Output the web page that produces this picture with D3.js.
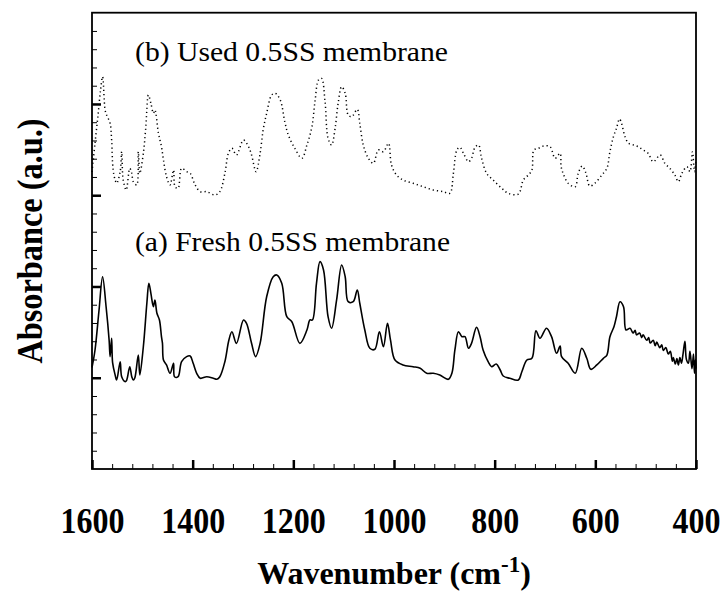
<!DOCTYPE html>
<html>
<head>
<meta charset="utf-8">
<script src="https://cdn.jsdelivr.net/npm/d3@7"></script>
<style>
  body { margin: 0; background: #fff; }
  svg text { font-family: "Liberation Serif", "Times New Roman", serif; fill: #000; }
  .axis path, .axis line { stroke: #000; }
</style>
</head>
<body>
<div id="vis_container"></div>
<script>
// wavenumbers (cm-1) and absorbance
var freshWn = [1600,1594,1586,1579,1572,1566,1564,1561,1559,1554,1551,1544,1541,1534,1531,1525,1521,1518,1515,1508,
  1505,1498,1491,1487,1483,1478,1475,1471,1466,1462,1460,1458,1452,1445,1438,1436,1429,1422,1412,1405,
  1399,1392,1385,1372,1359,1352,1346,1336,1328,1322,1313,1299,1293,1283,1275,1266,1253,1240,1233,1223,
  1213,1203,1187,1173,1167,1162,1154,1147,1140,1131,1124,1114,1104,1097,1091,1081,1073,1068,1058,1048,
  1038,1029,1021,1013,1007,998,982,962,948,935,922,909,892,885,879,872,865,859,852,846,
  836,829,823,813,806,797,789,783,770,753,746,736,726,718,710,697,687,677,670,667,
  654,640,627,617,609,597,584,577,571,563,558,551,544,539,
  531,525,521,518,512,508,505,498,494,491,485,481,478,472,468,465,460,455,451,447,
  445,441,438,435,432,429,426,422,419,415,412,408,405,403,401,400];
var freshAbs = [1.112,1.304,1.742,2.107,1.778,1.414,1.231,1.432,1.162,1.030,0.975,1.176,1.011,0.957,0.975,1.121,1.011,0.975,0.997,1.249,
  1.030,1.340,1.816,2.035,1.925,1.778,1.852,1.706,1.633,1.450,1.377,1.194,1.140,1.049,1.158,1.011,1.011,1.176,1.231,1.238,
  1.158,1.049,0.994,1.011,0.994,0.983,1.011,1.176,1.414,1.504,1.377,1.633,1.597,1.377,1.231,1.377,1.888,2.107,2.126,2.035,
  1.669,1.614,1.377,1.523,1.633,1.633,2.035,2.272,2.181,1.669,1.542,1.852,2.235,2.107,1.833,1.833,1.961,1.816,1.523,1.323,
  1.312,1.504,1.340,1.597,1.414,1.194,1.140,1.121,1.103,1.049,1.049,1.030,0.983,1.049,1.304,1.504,1.450,1.450,1.323,1.377,
  1.553,1.450,1.304,1.176,1.121,1.151,1.085,1.019,0.994,0.975,1.066,1.194,1.213,1.515,1.432,1.542,1.450,1.268,1.348,1.231,
  1.158,1.049,1.323,1.213,1.092,1.140,1.213,1.249,1.450,1.559,1.669,1.833,1.778,1.523,
  1.542,1.49,1.52,1.47,1.49,1.44,1.47,1.41,1.44,1.38,1.41,1.35,1.39,1.33,1.36,1.30,1.33,1.26,1.29,1.18,
  1.22,1.15,1.21,1.14,1.22,1.16,1.25,1.40,1.20,1.16,1.29,1.10,1.26,1.05,1.20,1.10];

var usedWn = [1600,1594,1588,1583,1579,1574,1571,1564,1561,1558,1554,1551,1544,1541,1538,1532,1525,1521,1518,1511,
  1508,1505,1498,1493,1488,1483,1478,1475,1468,1462,1458,1452,1445,1438,1435,1429,1422,1412,1405,1395,
  1385,1372,1356,1346,1336,1329,1322,1313,1299,1289,1283,1274,1266,1260,1253,1243,1236,1226,1217,1210,
  1197,1183,1173,1163,1157,1150,1144,1137,1131,1124,1117,1111,1104,1097,1091,1084,1073,1068,1061,1051,
  1041,1031,1021,1011,1005,995,982,962,942,922,902,889,882,875,869,862,852,846,839,832,
  826,816,803,786,773,753,743,733,726,722,713,703,690,680,670,668,664,654,640,634,
  626,619,611,601,587,577,571,564,558,552,548,541,534,524,515,505,495,485,471,462,
  452,442,435,428,418,412,407,403,400];
var usedAbs = [3.254,3.572,3.879,4.153,4.299,3.934,3.879,3.788,3.605,3.276,3.167,3.131,3.258,3.477,3.167,3.057,3.295,3.240,3.148,3.112,
  3.477,3.240,3.459,3.751,4.098,4.007,3.898,3.934,3.678,3.532,3.386,3.203,3.112,3.276,3.093,3.076,3.295,3.258,3.240,3.112,
  3.039,3.039,3.002,3.039,3.240,3.459,3.514,3.441,3.605,3.532,3.441,3.258,3.459,3.715,3.898,4.098,4.117,4.043,3.806,3.660,
  3.514,3.405,3.550,3.751,4.025,4.263,4.281,4.025,3.624,3.550,3.733,4.007,4.189,4.117,3.879,3.860,3.941,3.788,3.550,3.405,
  3.350,3.496,3.477,3.569,3.331,3.222,3.167,3.131,3.093,3.057,3.039,3.021,3.240,3.496,3.525,3.459,3.367,3.405,3.525,3.550,
  3.405,3.240,3.167,3.076,3.021,3.013,3.167,3.222,3.276,3.496,3.514,3.539,3.532,3.405,3.459,3.313,3.240,3.131,3.093,3.240,
  3.320,3.247,3.101,3.131,3.222,3.295,3.477,3.641,3.733,3.835,3.788,3.641,3.569,3.550,3.532,3.496,3.459,3.367,3.441,3.350,
  3.295,3.222,3.148,3.240,3.313,3.258,3.477,3.258,3.386];

var xMajorTicks = [1600, 1400, 1200, 1000, 800, 600, 400];
var labelUsed = "(b) Used 0.5SS membrane";
var labelFresh = "(a) Fresh 0.5SS membrane";

function buildSpectra() {
  var width = 725, height = 594;
  var left = 92, right = 696, top = 12.7, bottom = 469;

  var svg = d3.select("#vis_container").append("svg")
      .attr("width", width)
      .attr("height", height);

  var x = d3.scaleLinear().domain([1600, 400]).range([left, right]);
  var y = d3.scaleLinear().domain([0, 5]).range([bottom, top]);

  // minor ticks every 40 cm-1 and every 0.2 a.u., pointing inward
  svg.append("g")
      .attr("class", "axis")
      .attr("transform", "translate(0," + bottom + ")")
      .call(d3.axisBottom(x).tickValues(d3.range(1600, 399, -40)).tickSize(-5).tickFormat(""))
      .call(function (g) { g.select(".domain").remove(); });
  svg.append("g")
      .attr("class", "axis")
      .attr("transform", "translate(" + left + ",0)")
      .call(d3.axisLeft(y).tickValues(d3.range(0.2, 4.9, 0.2)).tickSize(-5).tickFormat(""))
      .call(function (g) { g.select(".domain").remove(); });

  // major ticks with labels
  var xAxis = svg.append("g")
      .attr("class", "axis")
      .attr("transform", "translate(0," + bottom + ")")
      .call(d3.axisBottom(x).tickValues(xMajorTicks).tickSize(-9).tickPadding(64).tickFormat(d3.format("d")));
  xAxis.select(".domain").remove();
  xAxis.selectAll("line").attr("stroke-width", 2.5);
  xAxis.selectAll("text")
      .attr("font-size", 36)
      .attr("font-weight", "bold")
      .attr("dy", "0")
      .attr("textLength", function (d) { return String(d).length * 16; })
      .attr("lengthAdjust", "spacingAndGlyphs");

  var yAxis = svg.append("g")
      .attr("class", "axis")
      .attr("transform", "translate(" + left + ",0)")
      .call(d3.axisLeft(y).tickValues([1, 2, 3, 4]).tickSize(-9).tickFormat(""));
  yAxis.select(".domain").remove();
  yAxis.selectAll("line").attr("stroke-width", 2.5);

  // frame
  svg.append("rect")
      .attr("x", left).attr("y", top)
      .attr("width", right - left).attr("height", bottom - top)
      .attr("fill", "none").attr("stroke", "#000").attr("stroke-width", 1.8);

  var line = d3.line()
      .x(function (d) { return x(d[0]); })
      .y(function (d) { return y(d[1]); })
      .curve(d3.curveCatmullRom.alpha(0.5));

  svg.append("path")
      .attr("d", line(d3.zip(usedWn, usedAbs)))
      .attr("fill", "none")
      .attr("stroke", "#000")
      .attr("stroke-width", 1.5)
      .attr("stroke-dasharray", "1.2,3");

  svg.append("path")
      .attr("d", line(d3.zip(freshWn, freshAbs)))
      .attr("fill", "none")
      .attr("stroke", "#000")
      .attr("stroke-width", 1.6)
      .attr("stroke-linejoin", "round");

  // curve labels
  svg.append("text")
      .attr("x", 135).attr("y", 60.5)
      .attr("font-size", 27)
      .attr("textLength", 313).attr("lengthAdjust", "spacingAndGlyphs")
      .text(labelUsed);
  svg.append("text")
      .attr("x", 135).attr("y", 251)
      .attr("font-size", 27)
      .attr("textLength", 315).attr("lengthAdjust", "spacingAndGlyphs")
      .text(labelFresh);

  // axis titles
  var xt = svg.append("text")
      .attr("x", (left + right) / 2)
      .attr("y", 584)
      .attr("font-size", 32)
      .attr("font-weight", "bold")
      .style("text-anchor", "middle");
  xt.append("tspan").text("Wavenumber (cm");
  xt.append("tspan").attr("dy", -12).attr("font-size", 23).text("-1");
  xt.append("tspan").attr("dy", 12).text(")");

  svg.append("text")
      .attr("transform", "translate(42," + 241 + ") rotate(-90)")
      .attr("font-size", 35)
      .attr("font-weight", "bold")
      .attr("textLength", 245).attr("lengthAdjust", "spacingAndGlyphs")
      .style("text-anchor", "middle")
      .text("Absorbance (a.u.)");
}

buildSpectra();
</script>
</body>
</html>
